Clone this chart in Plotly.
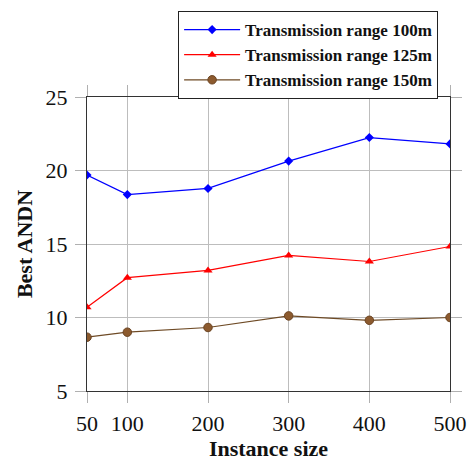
import plotly.graph_objects as go

instance_sizes = [50, 100, 200, 300, 400, 500]
andn_100m = [19.69, 18.36, 18.78, 20.64, 22.24, 21.81]
andn_125m = [10.70, 12.71, 13.20, 14.22, 13.81, 14.83]
andn_150m = [8.66, 9.00, 9.32, 10.11, 9.81, 10.00]
series_names = ["Transmission range 100m", "Transmission range 125m", "Transmission range 150m"]
x_ticks = [50, 100, 200, 300, 400, 500]
y_ticks = [5, 10, 15, 20, 25]

SERIF = "Liberation Serif, Times New Roman, DejaVu Serif, serif"

fig = go.Figure()
fig.add_trace(go.Scatter(
    x=instance_sizes, y=andn_100m, mode="lines+markers", name="<b>" + series_names[0] + "</b>",
    line=dict(color="#0000ff", width=1.2),
    marker=dict(symbol="diamond", size=7, color="#0000ff")))
fig.add_trace(go.Scatter(
    x=instance_sizes, y=andn_125m, mode="lines+markers", name="<b>" + series_names[1] + "</b>",
    line=dict(color="#ff0000", width=1.2),
    marker=dict(symbol="triangle-up", size=8, color="#ff0000")))
fig.add_trace(go.Scatter(
    x=instance_sizes, y=andn_150m, mode="lines+markers", name="<b>" + series_names[2] + "</b>",
    line=dict(color="#6e4a25", width=1.2),
    marker=dict(symbol="circle", size=8.5, color="#8c5a2e",
                line=dict(color="#6b4422", width=1))))

axis_common = dict(
    showgrid=True, gridcolor="#bdbdbd", gridwidth=1,
    showline=True, linecolor="#333333", linewidth=1.3, mirror="allticks",
    ticks="outside", ticklen=11, tickcolor="#b0b0b0", tickwidth=1,
    zeroline=False, automargin=False,
    tickfont=dict(family=SERIF, size=22, color="#111111"),
)

fig.update_layout(
    width=468, height=461,
    margin=dict(l=87, r=18, t=96, b=70),
    paper_bgcolor="white", plot_bgcolor="white",
    font=dict(family=SERIF, color="#111111"),
    xaxis=dict(range=[50, 500], tickvals=x_ticks, ticklabelstandoff=1,
               title=dict(text="<b>Instance size</b>", font=dict(family=SERIF, size=22), standoff=3),
               **axis_common),
    yaxis=dict(range=[5, 25], tickvals=y_ticks, ticklabelstandoff=3,
               title=dict(text="<b>Best ANDN</b>", font=dict(family=SERIF, size=22), standoff=6),
               **axis_common),
    legend=dict(
        x=0.251, y=1.288, xanchor="left", yanchor="top",
        bgcolor="white", bordercolor="#222222", borderwidth=1,
        font=dict(family=SERIF, size=17, color="#111111"),
        itemwidth=56, tracegroupgap=0,
    ),
    showlegend=True,
)

fig.write_html("out.html")
